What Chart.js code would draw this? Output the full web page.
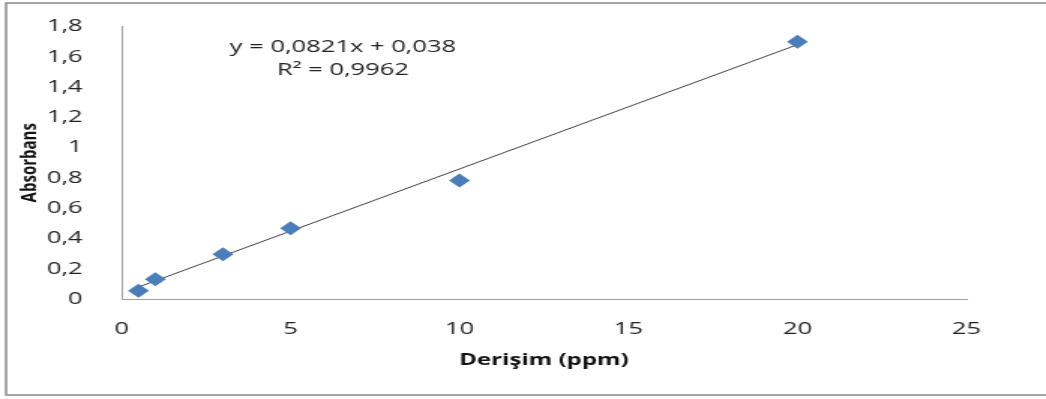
<!DOCTYPE html>
<html>
<head>
<meta charset="utf-8">
<script src="https://cdn.jsdelivr.net/npm/chart.js@4.4.1/dist/chart.umd.min.js"></script>
<style>
  html, body { margin: 0; padding: 0; background: #fff; overflow: hidden; }
  /* the original picture is a narrower chart stretched out sideways */
  #wrap { width: 697px; height: 399px; position: relative; transform: scaleX(1.5007); transform-origin: 0 0; }
</style>
</head>
<body>
<div id="wrap"><canvas id="chart"></canvas></div>
<script>
// Measured data (concentration in ppm vs absorbance)
const concentrations = [0.5, 1, 3, 5, 10, 20];
const absorbances = [0.055, 0.131, 0.296, 0.467, 0.782, 1.70];

// Linear trendline end points
const trendX = [0.5, 20];
const trendY = [0.079, 1.68];

const xTickLabels = ['0', '5', '10', '15', '20', '25'];
const yTickLabels = ['0', '0,2', '0,4', '0,6', '0,8', '1', '1,2', '1,4', '1,6', '1,8'];
const equationLines = ['y = 0,0821x + 0,038', 'R² = 0,9962'];

const font = '"Open Sans", sans-serif';

// outer frame + trendline equation
const extras = {
    id: 'extras',
    afterDraw(chart) {
        const ctx = chart.ctx;
        ctx.save();
        ctx.strokeStyle = '#8c8c8c';
        ctx.lineWidth = 1.5;
        ctx.beginPath();
        ctx.moveTo(chart.width, 3);
        ctx.lineTo(4, 3);
        ctx.lineTo(4, 395);
        ctx.lineTo(chart.width, 395);
        ctx.stroke();

        const xs = chart.scales.x, ys = chart.scales.y;
        ctx.fillStyle = '#222';
        ctx.font = '17px ' + font;
        ctx.textAlign = 'center';
        ctx.textBaseline = 'middle';
        const cx = xs.getPixelForValue(6.55);
        ctx.fillText(equationLines[0], cx, ys.getPixelForValue(1.662));
        ctx.fillText(equationLines[1], cx, ys.getPixelForValue(1.511));
        ctx.restore();
    }
};

new Chart(document.getElementById('chart'), {
    type: 'scatter',
    data: {
        datasets: [
            {
                label: 'Absorbans',
                data: concentrations.map((x, i) => ({ x: x, y: absorbances[i] })),
                pointStyle: 'rectRot',
                pointRadius: 7,
                pointBorderWidth: 0,
                backgroundColor: '#4a7ebb',
                borderColor: '#4a7ebb',
                order: 1
            },
            {
                label: 'Doğrusal',
                type: 'line',
                data: trendX.map((x, i) => ({ x: x, y: trendY[i] })),
                borderColor: '#404040',
                borderWidth: 1,
                pointRadius: 0,
                fill: false,
                order: 2
            }
        ]
    },
    options: {
        responsive: true,
        maintainAspectRatio: false,
        animation: false,
        layout: { padding: { top: 10, right: 53, bottom: 27, left: 11 } },
        plugins: {
            legend: { display: false },
            tooltip: { enabled: false }
        },
        scales: {
            x: {
                type: 'linear',
                min: 0,
                max: 25,
                grid: { display: false },
                border: { display: true, color: '#a0a0a0', width: 1 },
                ticks: {
                    stepSize: 5,
                    padding: 12,
                    color: '#222',
                    font: { family: font, size: 17 },
                    callback: (v) => xTickLabels[Math.round(v / 5)]
                },
                title: {
                    display: true,
                    text: 'Derişim (ppm)',
                    color: '#111',
                    font: { family: font, size: 16, weight: 'bold' },
                    padding: { top: 8, bottom: 2 }
                },
                afterFit(scale) { scale.height = 73; }
            },
            y: {
                type: 'linear',
                min: 0,
                max: 1.8,
                grid: { display: false },
                border: { display: true, color: '#a0a0a0', width: 1 },
                ticks: {
                    stepSize: 0.2,
                    padding: 18,
                    color: '#222',
                    font: { family: font, size: 17, lineHeight: 1 },
                    callback: (v) => yTickLabels[Math.round(v / 0.2)]
                },
                title: {
                    display: true,
                    text: 'Absorbans',
                    color: '#111',
                    font: { family: font, size: 15, weight: 'bold' },
                    padding: { top: 0, bottom: 0 }
                },
                afterFit(scale) { scale.width = 70; }
            }
        }
    },
    plugins: [extras]
});
</script>
</body>
</html>
